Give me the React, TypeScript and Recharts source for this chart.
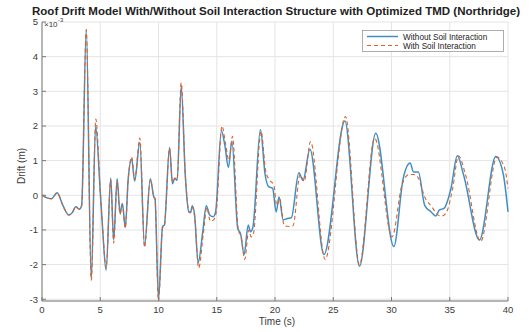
import React from 'react';
import { LineChart, Line, XAxis, YAxis, CartesianGrid } from 'recharts';

const timeTicks = [0, 5, 10, 15, 20, 25, 30, 35, 40];
const driftTicks = [-3, -2, -1, 0, 1, 2, 3, 4, 5];

// without soil interaction (drift in 1e-3 m)
const freeTime = [0, 0.8, 1.3, 1.8, 2.3, 2.6, 2.9, 3.2, 3.4, 3.8, 4.23, 4.6, 5.0, 5.2, 5.5, 5.9, 6.15, 6.45, 6.7, 6.9, 7.15, 7.4, 7.7, 7.95, 8.4, 8.8, 9.3, 9.6, 9.7, 10.0, 10.35, 10.5, 10.95, 11.2, 11.4, 11.6, 11.95, 12.3, 12.6, 12.75, 12.9, 13.1, 13.4, 13.8, 14.1, 14.4, 14.7, 14.9, 15.4, 15.7, 16.0, 16.3, 16.8, 17.05, 17.35, 17.7, 17.9, 18.1, 18.75, 19.15, 19.45, 19.8, 20.1, 20.35, 20.7, 21.05, 21.4, 22.05, 22.4, 23.0, 24.2, 26.0, 27.25, 28.65, 30.2, 31.0, 31.6, 31.9, 32.3, 32.85, 33.4, 33.8, 34.1, 34.5, 35.1, 35.65, 36.2, 37.55, 38.95, 39.6, 40];
const freeDrift = [0, -0.1, 0.07, -0.3, -0.57, -0.5, -0.33, -0.4, -0.3, 4.78, -2.41, 2.0, 0.1, -0.95, -2.16, 0.5, -1.29, 0.48, -0.52, -0.24, -0.92, 0.48, 1.05, 0.41, 1.52, -1.46, 0.48, -0.05, -0.1, -3.0, -0.9, -0.86, 1.38, 0.33, 0.5, 0.43, 3.14, 0.57, -0.48, -0.5, -0.3, -0.57, -1.95, -1.05, -0.3, -0.57, -0.62, -0.48, 1.86, 1.43, 0.8, 1.57, -0.95, -1.12, -1.71, -0.86, -1.05, -0.93, 1.9, 0.6, 0.25, 0.2, -0.48, -0.05, -0.71, -0.67, -0.65, 0.65, 0.43, 1.33, -1.71, 2.14, -2.05, 1.79, -1.48, 0.48, 0.93, 0.67, 0.67, -0.29, -0.48, -0.6, -0.43, -0.38, 0.19, 1.14, 0.57, -1.29, 1.12, 0.6, -0.48];

// with soil interaction
const soilTime = [0, 0.8, 1.3, 1.8, 2.3, 2.6, 2.9, 3.2, 3.4, 3.8, 4.23, 4.62, 5.0, 5.2, 5.5, 5.9, 6.15, 6.45, 6.7, 6.9, 7.15, 7.4, 7.7, 7.95, 8.4, 8.8, 9.3, 9.6, 9.7, 10.0, 10.35, 10.5, 10.95, 11.2, 11.4, 11.6, 11.95, 12.3, 12.6, 12.75, 12.9, 13.1, 13.45, 13.85, 14.15, 14.45, 14.75, 14.95, 15.45, 15.75, 16.05, 16.35, 16.85, 17.1, 17.4, 17.75, 17.95, 18.15, 18.8, 19.2, 19.5, 19.9, 20.15, 20.4, 20.8, 21.2, 21.55, 22.15, 22.5, 23.05, 24.3, 26.05, 27.25, 28.55, 30.05, 30.9, 31.5, 31.9, 32.3, 32.85, 33.5, 33.9, 34.3, 34.7, 35.25, 35.75, 36.35, 37.65, 39.05, 39.7, 40];
const soilDrift = [0, -0.1, 0.07, -0.3, -0.57, -0.5, -0.33, -0.4, -0.3, 4.78, -2.45, 2.2, 0.15, -0.9, -2.1, 0.45, -1.38, 0.42, -0.55, -0.28, -0.95, 0.45, 1.1, 0.45, 1.65, -1.5, 0.45, -0.05, -0.1, -3.05, -0.95, -0.9, 1.35, 0.38, 0.48, 0.45, 3.25, 0.6, -0.45, -0.5, -0.35, -0.6, -2.1, -1.1, -0.35, -0.75, -0.7, -0.5, 2.0, 1.5, 1.0, 1.7, -1.0, -1.2, -1.85, -1.0, -1.2, -1.1, 1.85, 0.7, 0.45, 0.3, -0.3, -0.1, -0.88, -0.9, -0.88, 0.6, 0.4, 1.55, -1.85, 2.27, -2.0, 1.65, -1.2, 0.3, 0.6, 0.6, 0.5, -0.05, -0.35, -0.55, -0.6, -0.5, 0.2, 1.14, 0.6, -1.33, 1.1, 0.8, 0.2];

const freeData = freeTime.map((t, i) => ({ t, v: freeDrift[i] }));
const soilData = soilTime.map((t, i) => ({ t, v: soilDrift[i] }));

const font = '"Liberation Sans", Arial, sans-serif';
const blue = '#3f8fc6';
const orange = '#d9622b';
const axisGray = '#7a7a7a';
const tickStyle = { fontSize: 9.5, fill: '#3a3a3a', fontFamily: font };

export default function App() {
  return (
    <div style={{ position: 'absolute', left: 0, top: 0, width: 529, height: 332, background: '#fff' }}>
      <LineChart width={529} height={332} margin={{ top: 22, right: 21, bottom: 0, left: 0 }}>
        <CartesianGrid stroke="#e4e4e4" horizontal vertical />
        <XAxis dataKey="t" type="number" domain={[0, 40]} ticks={timeTicks} height={31}
          allowDuplicatedCategory={false}
          tickSize={-4} tickMargin={9} tick={tickStyle}
          stroke={axisGray} />
        <XAxis xAxisId="top" orientation="top" type="number" domain={[0, 40]} ticks={timeTicks} height={0}
          tickSize={-4} tick={false} stroke={axisGray} />
        <YAxis type="number" domain={[-3, 5]} ticks={driftTicks} width={42}
          tickSize={-4} tickMargin={8} tick={tickStyle} stroke={axisGray} />
        <YAxis yAxisId="right" orientation="right" type="number" domain={[-3, 5]} ticks={driftTicks} width={0}
          tickSize={-4} tick={false} stroke={axisGray} />
        <Line data={freeData} dataKey="v" type="monotone" stroke={blue} strokeWidth={1.5}
          dot={false} isAnimationActive={false} />
        <Line data={soilData} dataKey="v" type="monotone" stroke={orange} strokeWidth={1.1}
          strokeDasharray="4 3" dot={false} isAnimationActive={false} />
      </LineChart>
      <svg width={529} height={332} style={{ position: 'absolute', left: 0, top: 0, pointerEvents: 'none' }}>
        <text x={44} y={27} fontSize={8} fontFamily={font} fill="#3a3a3a">×10</text>
        <text x={58} y={22} fontSize={6} fontFamily={font} fill="#3a3a3a">-3</text>
        <text x={276} y={14.5} textAnchor="middle" fontSize={10} fontWeight="bold" fontFamily={font} fill="#222"
          textLength={488} lengthAdjust="spacingAndGlyphs">
          Roof Drift Model With/Without Soil Interaction  Structure with Optimized TMD (Northridge)
        </text>
        <text x={277} y={325} textAnchor="middle" fontSize={10} fontFamily={font} fill="#3a3a3a">Time (s)</text>
        <text transform="translate(25,166) rotate(-90)" textAnchor="middle" fontSize={10} fontFamily={font} fill="#3a3a3a">Drift (m)</text>
        <g>
          <rect x={362.5} y={30.5} width={141} height={21} fill="#fff" stroke="#9a9a9a" strokeWidth={0.8} />
          <line x1={367} y1={36.5} x2={398} y2={36.5} stroke={blue} strokeWidth={1.5} />
          <line x1={367} y1={45.5} x2={398} y2={45.5} stroke={orange} strokeWidth={1.1} strokeDasharray="4 3" />
          <text x={403} y={39.5} fontSize={8.2} fontFamily={font} fill="#222">Without Soil Interaction</text>
          <text x={403} y={48.5} fontSize={8.2} fontFamily={font} fill="#222">With Soil Interaction</text>
        </g>
      </svg>
    </div>
  );
}
